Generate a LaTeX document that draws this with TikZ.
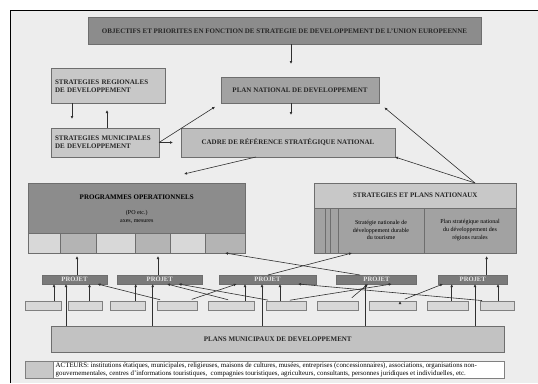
\documentclass[tikz,border=0pt]{standalone}
\usepackage{fontspec}
\setmainfont{Liberation Serif}
\usetikzlibrary{arrows.meta}

\definecolor{pagebg}{HTML}{EDEDED}
\definecolor{boxline}{HTML}{6E6E6E}
\definecolor{linecol}{HTML}{303030}
\definecolor{gdark}{HTML}{8C8C8C}
\definecolor{gmid}{HTML}{A2A2A2}
\definecolor{glight}{HTML}{C8C8C8}
\definecolor{gpale}{HTML}{D8D8D8}
\definecolor{gproj}{HTML}{7A7A7A}

\newcommand{\capsfont}{\bfseries\fontsize{7}{8}\selectfont}
\newcommand{\projfont}{\bfseries\fontsize{6.6}{7.6}\selectfont}
\newcommand{\smallfont}{\fontsize{6}{7.8}\selectfont}
\newcommand{\legfont}{\fontsize{6.9}{8}\selectfont}

\tikzset{
   box/.style={draw=boxline, line width=0.6pt, inner sep=0pt, outer sep=0pt,
      anchor=north west, font=\capsfont, text=black!85},
   leftbox/.style={box, inner xsep=4pt, align=left},
   cell/.style={draw=boxline, line width=0.5pt, inner sep=0pt, outer sep=0pt,
      anchor=north west, minimum height=20},
   projbox/.style={box, fill=gproj, font=\projfont, text=white!90!black, minimum height=9},
   actbox/.style={draw=gray, line width=0.5pt, fill=gpale, inner sep=0pt,
      outer sep=0pt, anchor=north west, minimum height=9},
   arr/.style={draw=linecol, line width=0.6pt, -{Latex[length=3pt,width=2.8pt]}},
}

\begin{document}
\begin{tikzpicture}[x=1pt,y=-1pt]
      \useasboundingbox (0,0) rectangle (538,383);
      \fill[pagebg] (10,10) rectangle (538,383);
      \draw[black, line width=1pt] (10,383) -- (10,10) -- (538,10);

      \node[box, name=top, fill=gdark, minimum width=393, minimum height=26.5] at (88,17.5)
         {OBJECTIFS ET PRIORITES EN FONCTION DE STRATEGIE DE DEVELOPPEMENT DE L'UNION EUROPEENNE};
      \node[leftbox, name=sr, fill=glight, text width=106, minimum height=34.5] at (51,68.5)
         {STRATEGIES REGIONALES\\DE DEVELOPPEMENT};
      \node[box, name=pn, fill=gmid, minimum width=158, minimum height=26] at (221,77)
         {PLAN NATIONAL DE DEVELOPPEMENT};
      \node[leftbox, name=sm, fill=glight, text width=100, minimum height=29] at (51,128)
         {STRATEGIES MUNICIPALES\\DE DEVELOPPEMENT};
      \node[box, name=cadre, fill=glight!95!black, minimum width=214, minimum height=29] at (181,128)
         {CADRE DE RÉFÉRENCE STRATÉGIQUE NATIONAL};

      \node[box, name=po, fill=gdark, minimum width=216.5, minimum height=70] at (28.5,183) {};
      \node[name=potitle, font=\capsfont, inner sep=0pt] at (136.75,197) {PROGRAMMES OPERATIONNELS};
      \node[name=posub, font=\smallfont, align=center, inner sep=0pt] at (136.75,216.5) {(PO etc.)\\axes, mesures};
      \node[cell, name=c1, fill=gpale, minimum width=31.5] at (28.5,233) {};
      \node[cell, name=c2, fill=glight!90!black, minimum width=36] at (60,233) {};
      \node[cell, name=c3, fill=gpale, minimum width=39.5] at (96,233) {};
      \node[cell, name=c4, fill=glight!90!black, minimum width=35] at (135.5,233) {};
      \node[cell, name=c5, fill=gpale, minimum width=34.5] at (170.5,233) {};
      \node[cell, name=c6, fill=glight!90!black, minimum width=40] at (205,233) {};

      \node[box, name=spn, fill=gmid, minimum width=202.5, minimum height=70] at (314,183) {};
      \node[box, name=spnt, fill=glight, minimum width=202.5, minimum height=25] at (314,183)
         {STRATEGIES ET PLANS NATIONAUX};
      \draw[boxline, line width=0.5pt]
         (spnt.south -| 325,0) -- (spn.south -| 325,0)
         (spnt.south -| 330,0) -- (spn.south -| 330,0)
         (spnt.south -| 338,0) -- (spn.south -| 338,0)
         (spnt.south -| 424,0) -- (spn.south -| 424,0);
      \node[name=tour, font=\smallfont, align=center, inner sep=0pt] at (381,230)
         {Stratégie nationale de\\développement durable\\du tourisme};
      \node[name=rur, font=\smallfont, align=center, inner sep=0pt] at (470,230)
         {Plan stratégique national\\du développement des\\régions rurales};

      \node[projbox, name=p1, minimum width=65] at (42,275) {PROJET};
      \node[projbox, name=p2, minimum width=85.5] at (117,275) {PROJET};
      \node[projbox, name=p3, minimum width=97] at (219,275) {PROJET};
      \node[projbox, name=p4, minimum width=80] at (336.5,275) {PROJET};
      \node[projbox, name=p5, minimum width=68.5] at (438.5,275) {PROJET};

      \node[actbox, name=b1, minimum width=35.3] at (25.7,301) {};
      \node[actbox, name=b2, minimum width=34] at (68,301) {};
      \node[actbox, name=b3, minimum width=34.5] at (110.5,301) {};
      \node[actbox, name=b4, minimum width=40] at (157,301) {};
      \node[actbox, name=b5, minimum width=46.6] at (208,301) {};
      \node[actbox, name=b6, minimum width=40.5] at (266,301) {};
      \node[actbox, name=b7, minimum width=41.2] at (317.4,301) {};
      \node[actbox, name=b8, minimum width=46.4] at (369.6,301) {};
      \node[actbox, name=b9, minimum width=41.4] at (427,301) {};
      \node[actbox, name=b10, minimum width=33.6] at (480.4,301) {};

      \node[box, name=plans, fill=glight!97!black, minimum width=453.5, minimum height=26] at (51,326)
         {PLANS MUNICIPAUX DE DEVELOPPEMENT};

      \node[box, name=leg, fill=white, draw=gray, minimum width=478.8, minimum height=17.1] at (25.7,361.4) {};
      \node[box, name=legsw, fill=glight, draw=gray, minimum width=27.3, minimum height=17.1] at (25.7,361.4) {};
      \node[name=legtxt, anchor=west, font=\legfont, align=left, inner sep=0pt] at (55.5,370)
         {ACTEURS: institutions étatiques, municipales, religieuses, maisons de cultures, musées, entreprises (concessionnaires), associations, organisations non-\\gouvernementales, centres d'informations touristiques,\ \ compagnies touristiques, agriculteurs, consultants, personnes juridiques et individuelles, etc.};

      \coordinate (potip) at (184,174);

      \path[arr]
         (top.south -| 291,0) edge[shorten >=13pt] (pn.north -| 291,0)
         (pn.south -| 291,0) edge[shorten >=13pt] (cadre.north -| 291,0)
         (sr.south -| 72,0) edge[shorten >=9pt] (sm.north -| 72,0)
         (sm.north -| 107,0) edge[shorten >=7pt] (sr.south -| 107,0)
         (sm.east) edge[shorten >=7pt] (pn.south west)
         (sm.east) edge[shorten >=8pt] (cadre.west |- sm.east)
         (spn.north -| 475,0) edge[shorten >=7pt] (pn.south east)
         (spn.north -| 475,0) edge (cadre.south east)
         (cadre.south -| 256,0) edge (potip)
         (p1.north -| 77,0) edge[shorten >=3pt] (po.south -| 77,0)
         (p2.north -| 158,0) edge[shorten >=3pt] (po.south -| 158,0)
         (p5.north -| 486.6,0) edge[shorten >=3pt] (spn.south -| 486.6,0)
         (p4.north -| 360,0) edge (po.south -| 225,0)
         (p3.north -| 268,0) edge (spn.south -| 352,0)
         (plans.north -| 66,0) edge (p1.south -| 66,0)
         (plans.north -| 152.7,0) edge (p2.south -| 152.7,0)
         (plans.north -| 262,0) edge (p3.south -| 262,0)
         (plans.north -| 365.5,0) edge (p4.south -| 365.5,0)
         (plans.north -| 475,0) edge (p5.south -| 475,0)
         (b1.north -| 54,0) edge (p1.south -| 54,0)
         (b2.north -| 89.5,0) edge (p1.south -| 89.5,0)
         (b3.north -| 135.7,0) edge (p2.south -| 135.7,0)
         (b5.north -| 245,0) edge (p3.south -| 245,0)
         (b6.north -| 280,0) edge (p3.south -| 280,0)
         (b9.north -| 451.7,0) edge (p5.south -| 451.7,0)
         (b10.north -| 498,0) edge (p5.south -| 498,0)
         (b4.north -| 165,0) edge[shorten <=5pt] (p1.south -| 97.5,0)
         (b5.north -| 233,0) edge[shorten <=5pt] (p2.south -| 167,0)
         (b6.north -| 273,0) edge[shorten <=5pt] (p2.south -| 178.5,0)
         (b4.north -| 187,0) edge[shorten <=5pt] (p3.south -| 236.7,0)
         (b10.north -| 487,0) edge[shorten <=5pt] (p3.south -| 298,0)
         (b6.north -| 285,0) edge[shorten <=5pt] (p4.south -| 391.7,0)
         (b7.north -| 348,0) edge[shorten <=5pt] (p4.south -| 368,0)
         (b8.north -| 400,0) edge[shorten <=5pt] (p5.south -| 443,0);
   \end{tikzpicture}
\end{document}
